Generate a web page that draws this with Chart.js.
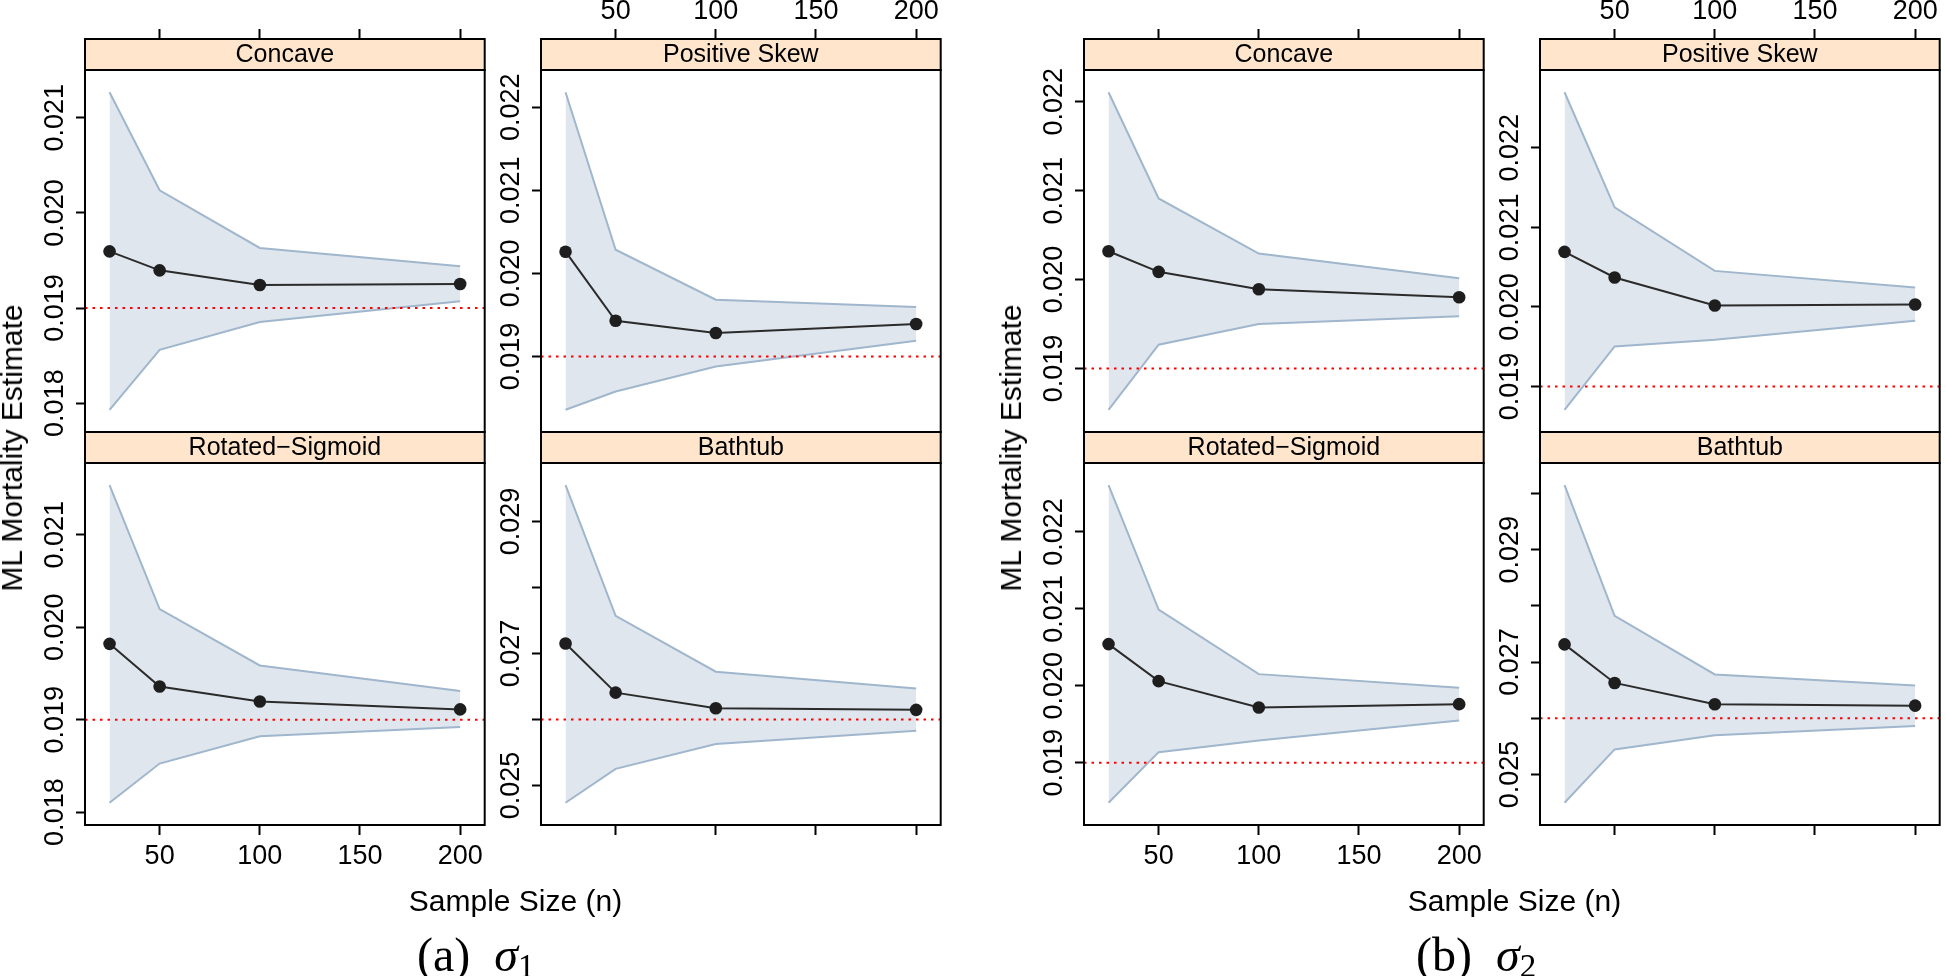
<!DOCTYPE html>
<html>
<head>
<meta charset="utf-8">
<title>ML Mortality Estimate by Sample Size</title>
<script src="https://cdn.jsdelivr.net/npm/chart.js@4.4.1/dist/chart.umd.min.js"></script>
<style>
  html, body { margin: 0; padding: 0; background: #fff; overflow: hidden; }
  #page { position: relative; width: 1946px; height: 976px; }
  #page canvas { position: absolute; top: 0; }
  .sans { position: absolute; font-family: "Liberation Sans", Arial, Helvetica, sans-serif; color: #000; white-space: nowrap; }
  .cap { position: absolute; font-family: "Liberation Serif", "Times New Roman", serif; font-size: 48px; line-height: 48px; color: #000; white-space: nowrap; }
</style>
</head>
<body>
<div id="page"></div>
<script>
//-----------------------------------------------------
// DATA
//-----------------------------------------------------
const sampleSizes = [25, 50, 100, 200];
const xTicks = [50, 100, 150, 200];
const shapeNames = ["Concave", "Positive Skew", "Rotated\u2212Sigmoid", "Bathtub"];
const trueRates = [0.019, 0.019, 0.019, 0.026];

// (a) sigma 1
const sigma1Est = [
  [0.019596, 0.019396, 0.019242, 0.019253],
  [0.020261, 0.019430, 0.019282, 0.019390],
  [0.019820, 0.019359, 0.019197, 0.019111],
  [0.027151, 0.026407, 0.026171, 0.026146],
];
const sigma1Upper = [
  [0.021269, 0.020238, 0.019632, 0.019438],
  [0.022181, 0.020285, 0.019683, 0.019595],
  [0.021536, 0.020197, 0.019586, 0.019310],
  [0.029548, 0.027569, 0.026724, 0.026468],
];
const sigma1Lower = [
  [0.017930, 0.018561, 0.018853, 0.019070],
  [0.018358, 0.018578, 0.018880, 0.019189],
  [0.018101, 0.018525, 0.018820, 0.018921],
  [0.024739, 0.025252, 0.025629, 0.025829],
];

// (b) sigma 2
const sigma2Est = [
  [0.020319, 0.020087, 0.019891, 0.019801],
  [0.020692, 0.020370, 0.020017, 0.020030],
  [0.020542, 0.020061, 0.019719, 0.019762],
  [0.027315, 0.026629, 0.026249, 0.026225],
];
const sigma2Upper = [
  [0.022108, 0.020913, 0.020293, 0.020015],
  [0.022699, 0.021252, 0.020453, 0.020244],
  [0.022607, 0.020991, 0.020152, 0.019974],
  [0.030148, 0.027822, 0.026781, 0.026585],
];
const sigma2Lower = [
  [0.018535, 0.019267, 0.019500, 0.019586],
  [0.018707, 0.019503, 0.019587, 0.019826],
  [0.018480, 0.019138, 0.019290, 0.019550],
  [0.024496, 0.025446, 0.025696, 0.025862],
];

// y tick marks per panel, and how often a tick gets a label
const sigma1YTicks = [
  [0.018, 0.019, 0.020, 0.021],
  [0.019, 0.020, 0.021, 0.022],
  [0.018, 0.019, 0.020, 0.021],
  [0.025, 0.026, 0.027, 0.028, 0.029],
];
const sigma2YTicks = [
  [0.019, 0.020, 0.021, 0.022],
  [0.019, 0.020, 0.021, 0.022],
  [0.019, 0.020, 0.021, 0.022],
  [0.025, 0.026, 0.027, 0.028, 0.029, 0.030],
];
const yLabelEvery = [1, 1, 1, 2];

const captionTags = ["(a)", "(b)"];
const captionSubs = ["1", "2"];

//-----------------------------------------------------
// LAYOUT / STYLE
//-----------------------------------------------------
const FONT = '"Liberation Sans", Arial, Helvetica, sans-serif';
const GROUP_X = [0, 999];
const COL_X = [85, 541];     // panel left edges inside a group
const PANEL_W = 405;
const AXIS_W = 85;
const STRIP_H = 31;
const CANVAS_H = 976;
const BAND_LINE = "#a0b6cd";
const BAND_FILL = "#dfe6ee";
const STRIP_FILL = "#ffe5cc";

// lattice-style 7% padding of the data range
function paddedRange(vals) {
  const lo = Math.min(...vals);
  const hi = Math.max(...vals);
  const r = hi - lo;
  return [lo - 0.07 * r, hi + 0.07 * r];
}
const [xMin, xMax] = paddedRange(sampleSizes);

//-----------------------------------------------------
// STRIP + PANEL BORDER PLUGIN
//-----------------------------------------------------
const stripPlugin = {
  id: "strip",
  afterDraw(chart, args, opts) {
    const { ctx, chartArea: a } = chart;
    const w = a.right - a.left;
    ctx.save();
    ctx.fillStyle = STRIP_FILL;
    ctx.fillRect(a.left, a.top - STRIP_H, w, STRIP_H);
    ctx.lineWidth = 2;
    ctx.strokeStyle = "#000";
    ctx.strokeRect(a.left, a.top - STRIP_H, w, STRIP_H);
    ctx.strokeRect(a.left, a.top, w, a.bottom - a.top);
    ctx.fillStyle = "#000";
    ctx.font = "25px " + FONT;
    ctx.textAlign = "center";
    ctx.textBaseline = "middle";
    ctx.fillText(opts.title, a.left + w / 2, a.top - STRIP_H / 2 + 0.5);
    ctx.restore();
  },
};

//-----------------------------------------------------
// BUILD PANELS
//-----------------------------------------------------
const page = document.getElementById("page");

const groups = [
  { est: sigma1Est, upper: sigma1Upper, lower: sigma1Lower, yTicks: sigma1YTicks },
  { est: sigma2Est, upper: sigma2Upper, lower: sigma2Lower, yTicks: sigma2YTicks },
];

groups.forEach((g, gi) => {
  shapeNames.forEach((name, p) => {
    const col = p % 2;
    const row = Math.floor(p / 2);
    const panelLeft = GROUP_X[gi] + COL_X[col];

    const canvas = document.createElement("canvas");
    canvas.width = AXIS_W + PANEL_W + 1;
    canvas.height = CANVAS_H;
    canvas.style.left = (panelLeft - AXIS_W) + "px";
    page.appendChild(canvas);

    const pts = (arr) => arr.map((v, i) => ({ x: sampleSizes[i], y: v }));
    const [yMin, yMax] = paddedRange([...g.upper[p], ...g.lower[p], ...g.est[p]]);
    const ticksY = g.yTicks[p];
    const every = yLabelEvery[p];

    // x labels: top-right and bottom-left panels only (lattice alternation)
    const showXLabels = (row === 0 && col === 1) || (row === 1 && col === 0);

    new Chart(canvas, {
      type: "line",
      data: {
        datasets: [
          {
            data: pts(g.upper[p]),
            borderColor: BAND_LINE,
            borderWidth: 2,
            backgroundColor: BAND_FILL,
            fill: "+1",
            pointRadius: 0,
            tension: 0,
            order: 3,
          },
          {
            data: pts(g.lower[p]),
            borderColor: BAND_LINE,
            borderWidth: 2,
            fill: false,
            pointRadius: 0,
            tension: 0,
            order: 2,
          },
          {
            data: [{ x: xMin, y: trueRates[p] }, { x: xMax, y: trueRates[p] }],
            borderColor: "#ff0000",
            borderWidth: 2,
            borderDash: [2.5, 5],
            fill: false,
            pointRadius: 0,
            order: 1,
          },
          {
            data: pts(g.est[p]),
            borderColor: "#2b2b2b",
            borderWidth: 2,
            fill: false,
            pointRadius: 6.3,
            pointBackgroundColor: "#1e1e1e",
            pointBorderColor: "#1e1e1e",
            pointBorderWidth: 0,
            tension: 0,
            order: 0,
          },
        ],
      },
      options: {
        responsive: false,
        animation: false,
        devicePixelRatio: 1,
        events: [],
        layout: {
          padding: {
            left: 0,
            right: 1,
            top: row === 0 ? 0 : 463,
            bottom: row === 0 ? CANVAS_H - 432 : 0,
          },
        },
        plugins: {
          legend: { display: false },
          tooltip: { enabled: false },
          strip: { title: name },
        },
        scales: {
          x: {
            type: "linear",
            position: row === 0 ? "top" : "bottom",
            min: xMin,
            max: xMax,
            bounds: "data",
            afterBuildTicks: (s) => { s.ticks = xTicks.map((v) => ({ value: v })); },
            afterFit: (s) => { s.height = row === 0 ? 70 : CANVAS_H - 825; },
            border: { display: false },
            grid: {
              drawOnChartArea: false,
              drawTicks: true,
              tickLength: row === 0 ? 41 : 10,
              tickWidth: 2,
              tickColor: "#000",
            },
            ticks: {
              display: showXLabels,
              autoSkip: false,
              maxRotation: 0,
              padding: row === 0 ? 1 : 5,
              color: "#000",
              font: { family: FONT, size: 27 },
              callback: (v) => String(v),
            },
          },
          y: {
            type: "linear",
            position: "left",
            min: yMin,
            max: yMax,
            bounds: "data",
            afterBuildTicks: (s) => { s.ticks = ticksY.map((v) => ({ value: v })); },
            afterFit: (s) => { s.width = AXIS_W; },
            border: { display: false },
            grid: {
              drawOnChartArea: false,
              drawTicks: true,
              tickLength: 9,
              tickWidth: 2,
              tickColor: "#000",
            },
            ticks: {
              autoSkip: false,
              minRotation: 90,
              maxRotation: 90,
              crossAlign: "center",
              padding: -13,
              color: "#000",
              font: { family: FONT, size: 27 },
              callback: (v, i) => (i % every === 0 ? v.toFixed(3) : ""),
            },
          },
        },
      },
      plugins: [stripPlugin],
    });
  });

  //-----------------------------------------------------
  // AXIS TITLES + CAPTION
  //-----------------------------------------------------
  const gx = GROUP_X[gi];

  const yTitle = document.createElement("div");
  yTitle.className = "sans";
  yTitle.style.cssText = `left:${gx + 12}px;top:447.5px;font-size:30px;line-height:30px;transform:translate(-50%,-50%) rotate(-90deg);`;
  yTitle.textContent = "ML Mortality Estimate";
  page.appendChild(yTitle);

  const xTitle = document.createElement("div");
  xTitle.className = "sans";
  xTitle.style.cssText = `left:${gx + (COL_X[0] + COL_X[1] + PANEL_W) / 2}px;top:886px;font-size:30px;line-height:30px;transform:translateX(-50%);`;
  xTitle.textContent = "Sample Size (n)";
  page.appendChild(xTitle);

  const cap = document.createElement("div");
  cap.className = "cap";
  cap.style.left = (gx + 417) + "px";
  cap.style.top = "931px";
  cap.innerHTML = `${captionTags[gi]}&nbsp;&nbsp;<i>\u03c3</i><span style="font-size:33px;position:relative;top:6px">${captionSubs[gi]}</span>`;
  page.appendChild(cap);
});
</script>
</body>
</html>
